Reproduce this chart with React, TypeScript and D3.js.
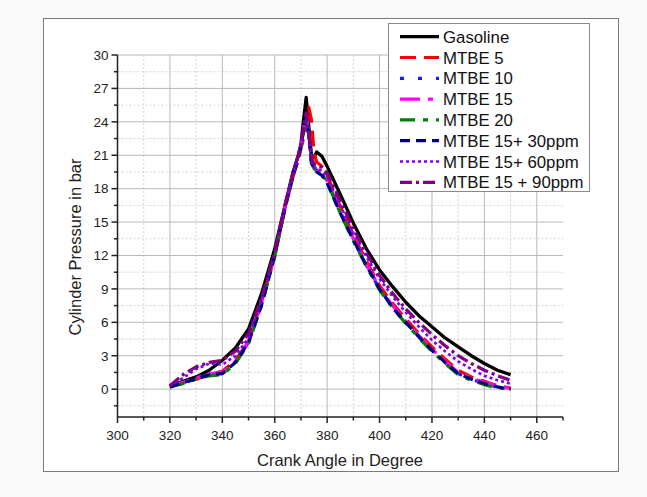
import React from "react";
import * as d3 from "d3";

const angles = [320, 325, 330, 335, 340, 345, 350, 355, 360, 364, 367, 369, 370, 371, 372, 373, 374, 375, 376, 378, 380, 385, 390, 395, 400, 405, 410, 415, 420, 425, 430, 435, 440, 445, 450];

const gasoline = [0.3, 0.7, 1.1, 1.7, 2.6, 3.7, 5.4, 8.6, 12.6, 16.6, 19.5, 21.0, 22.0, 24.2, 26.2, 23.6, 21.0, 20.8, 21.3, 20.9, 20.0, 17.5, 14.9, 12.6, 10.7, 9.2, 7.8, 6.6, 5.6, 4.6, 3.8, 3.0, 2.3, 1.7, 1.3];
const mtbe5 = [0.3, 0.6, 0.9, 1.3, 1.6, 2.6, 4.3, 7.8, 12.0, 16.3, 19.1, 20.6, 21.6, 22.5, 23.6, 25.3, 24.2, 21.2, 20.4, 20.0, 19.2, 16.4, 13.8, 11.5, 9.3, 7.7, 6.3, 5.0, 3.8, 2.7, 1.7, 1.1, 0.7, 0.3, 0.1];
const mtbe10 = [0.2, 0.6, 0.9, 1.3, 1.4, 2.4, 4.2, 7.6, 12.0, 16.4, 19.2, 20.8, 21.8, 23.2, 24.2, 22.6, 20.3, 19.8, 19.6, 19.3, 18.6, 15.9, 13.4, 11.1, 9.0, 7.4, 6.0, 4.7, 3.5, 2.4, 1.4, 0.9, 0.5, 0.2, 0.0];
const mtbe15 = [0.3, 0.6, 1.0, 1.4, 1.5, 2.5, 4.3, 7.8, 12.1, 16.5, 19.3, 20.9, 21.9, 23.4, 24.6, 23.0, 20.6, 20.0, 19.7, 19.4, 18.7, 16.0, 13.5, 11.2, 9.1, 7.5, 6.1, 4.8, 3.6, 2.5, 1.5, 1.0, 0.6, 0.3, 0.05];
const mtbe20 = [0.2, 0.5, 0.9, 1.2, 1.3, 2.3, 4.1, 7.5, 11.9, 16.3, 19.1, 20.7, 21.7, 23.0, 24.0, 22.8, 20.4, 19.8, 19.6, 19.3, 18.6, 15.8, 13.3, 11.0, 8.9, 7.3, 5.9, 4.6, 3.4, 2.3, 1.3, 0.8, 0.4, 0.1, 0.0];
const mtbe15_30 = [0.2, 0.6, 0.9, 1.3, 1.4, 2.4, 4.2, 7.6, 12.0, 16.4, 19.2, 20.8, 21.8, 23.3, 24.4, 22.9, 20.3, 19.8, 19.5, 19.2, 18.5, 15.8, 13.4, 11.1, 9.0, 7.3, 6.0, 4.7, 3.5, 2.4, 1.4, 0.9, 0.5, 0.2, 0.0];
const mtbe15_60 = [0.3, 1.0, 1.8, 2.3, 2.2, 3.0, 4.6, 8.0, 12.2, 16.5, 19.3, 20.9, 21.9, 23.2, 24.0, 22.7, 20.5, 19.9, 19.8, 19.6, 19.0, 16.5, 14.0, 11.9, 9.9, 8.3, 6.9, 5.6, 4.4, 3.4, 2.5, 1.8, 1.2, 0.8, 0.5];
const mtbe15_90 = [0.3, 1.3, 2.0, 2.4, 2.6, 3.4, 5.0, 8.2, 12.3, 16.6, 19.4, 21.0, 22.0, 23.5, 24.8, 23.0, 20.8, 20.2, 20.1, 19.9, 19.4, 16.9, 14.4, 12.2, 10.2, 8.6, 7.2, 6.0, 4.9, 3.9, 3.0, 2.3, 1.7, 1.2, 0.8];

const seriesNames = ["Gasoline", "MTBE 5", "MTBE 10", "MTBE 15", "MTBE 20", "MTBE 15+ 30ppm", "MTBE 15+ 60ppm", "MTBE 15 + 90ppm"];
const seriesValues = [gasoline, mtbe5, mtbe10, mtbe15, mtbe20, mtbe15_30, mtbe15_60, mtbe15_90];
const seriesColors = ["#000000", "#ff0000", "#1a1aff", "#ff00ff", "#008000", "#000080", "#8000ff", "#800080"];
const seriesDash = ["", "16,8", "4,14", "20,8,5,8", "15,8,5,8", "10,6", "3,3", "12,4,3,4"];
const seriesWidth = [3.3, 3.2, 3.2, 3.2, 3.2, 3.2, 2.7, 3.2];

const xMajorTicks = [300, 320, 340, 360, 380, 400, 420, 440, 460];
const xMinorTicks = [310, 330, 350, 370, 390, 410, 430, 450, 470];
const yMajorTicks = [0, 3, 6, 9, 12, 15, 18, 21, 24, 27, 30];
const yMinorTicks = [-1.5, 1.5, 4.5, 7.5, 10.5, 13.5, 16.5, 19.5, 22.5, 25.5, 28.5];

const W = 647;
const H = 497;
const L = 117.5, R = 563, T = 55, B = 417;

export default function App() {
  const x = d3.scaleLinear().domain([300, 470]).range([L, R]);
  const y = d3.scaleLinear().domain([-2.5, 30]).range([B, T]);
  const line = d3
    .line<[number, number]>()
    .x((d) => x(d[0]))
    .y((d) => y(d[1]));
  const font = "Arial, 'Liberation Sans', sans-serif";

  const legX = 388, legY = 23, legW = 201, legH = 168;
  const rowH = 20.8;

  return (
    <svg width={W} height={H} style={{ position: "absolute", left: 0, top: 0 }} fontFamily={font}>
      <rect x={0} y={0} width={W} height={H} fill="#f9f9f9" />
      <rect x={43.5} y={18.5} width={575} height={453} fill="#ffffff" stroke="#7a7a7a" strokeWidth={1} />
      {/* grid */}
      {xMinorTicks.filter((t) => t < 470).map((t) => (
        <line key={"gxm" + t} x1={x(t)} x2={x(t)} y1={T} y2={B} stroke="#c8c8c8" strokeWidth={0.8} strokeDasharray="2,2" />
      ))}
      {yMinorTicks.map((t) => (
        <line key={"gym" + t} x1={L} x2={R} y1={y(t)} y2={y(t)} stroke="#c8c8c8" strokeWidth={0.8} strokeDasharray="2,2" />
      ))}
      {xMajorTicks.filter((t) => t > 300).map((t) => (
        <line key={"gx" + t} x1={x(t)} x2={x(t)} y1={T} y2={B} stroke="#b8b8b8" strokeWidth={1} />
      ))}
      {yMajorTicks.map((t) => (
        <line key={"gy" + t} x1={L} x2={R} y1={y(t)} y2={y(t)} stroke="#b8b8b8" strokeWidth={1} />
      ))}
      {/* series */}
      {seriesValues.map((vals, i) => (
        <path
          key={"s" + i}
          d={line(angles.map((a, j) => [a, vals[j]] as [number, number])) || ""}
          fill="none"
          stroke={seriesColors[i]}
          strokeWidth={seriesWidth[i]}
          strokeDasharray={seriesDash[i] || undefined}
          strokeLinejoin="round"
        />
      ))}
      {/* axes */}
      <line x1={L} x2={R} y1={B} y2={B} stroke="#222" strokeWidth={1.5} />
      <line x1={L} x2={L} y1={T} y2={B} stroke="#222" strokeWidth={1.5} />
      {xMajorTicks.map((t) => (
        <g key={"xt" + t}>
          <line x1={x(t)} x2={x(t)} y1={B} y2={B + 6} stroke="#222" strokeWidth={1.5} />
          <text x={x(t)} y={439.5} textAnchor="middle" fontSize={13.5} fill="#222">{t}</text>
        </g>
      ))}
      {xMinorTicks.map((t) => (
        <line key={"xmt" + t} x1={x(t)} x2={x(t)} y1={B} y2={B + 3.5} stroke="#222" strokeWidth={1.5} />
      ))}
      {yMajorTicks.map((t) => (
        <g key={"yt" + t}>
          <line x1={L - 6} x2={L} y1={y(t)} y2={y(t)} stroke="#222" strokeWidth={1.5} />
          <text x={L - 9} y={y(t) + 4.8} textAnchor="end" fontSize={13.5} fill="#222">{t}</text>
        </g>
      ))}
      {yMinorTicks.map((t) => (
        <line key={"ymt" + t} x1={L - 3.5} x2={L} y1={y(t)} y2={y(t)} stroke="#222" strokeWidth={1.5} />
      ))}
      <text x={340} y={466} textAnchor="middle" fontSize={16.5} fill="#222">Crank Angle in Degree</text>
      <text transform={`translate(81,247) rotate(-90)`} textAnchor="middle" fontSize={16.5} fill="#222">Cylinder Pressure in bar</text>
      {/* legend */}
      <rect x={legX + 0.5} y={legY + 0.5} width={legW} height={legH} fill="#ffffff" stroke="#8a8a8a" strokeWidth={1} />
      {seriesNames.map((name, i) => {
        const cy = 36.7 + i * rowH;
        return (
          <g key={"lg" + i}>
            <line x1={400} x2={439} y1={cy} y2={cy} stroke={seriesColors[i]} strokeWidth={seriesWidth[i]} strokeDasharray={seriesDash[i] || undefined} />
            <text x={443} y={cy + 6} fontSize={16.8} fill="#111">{name}</text>
          </g>
        );
      })}
    </svg>
  );
}
